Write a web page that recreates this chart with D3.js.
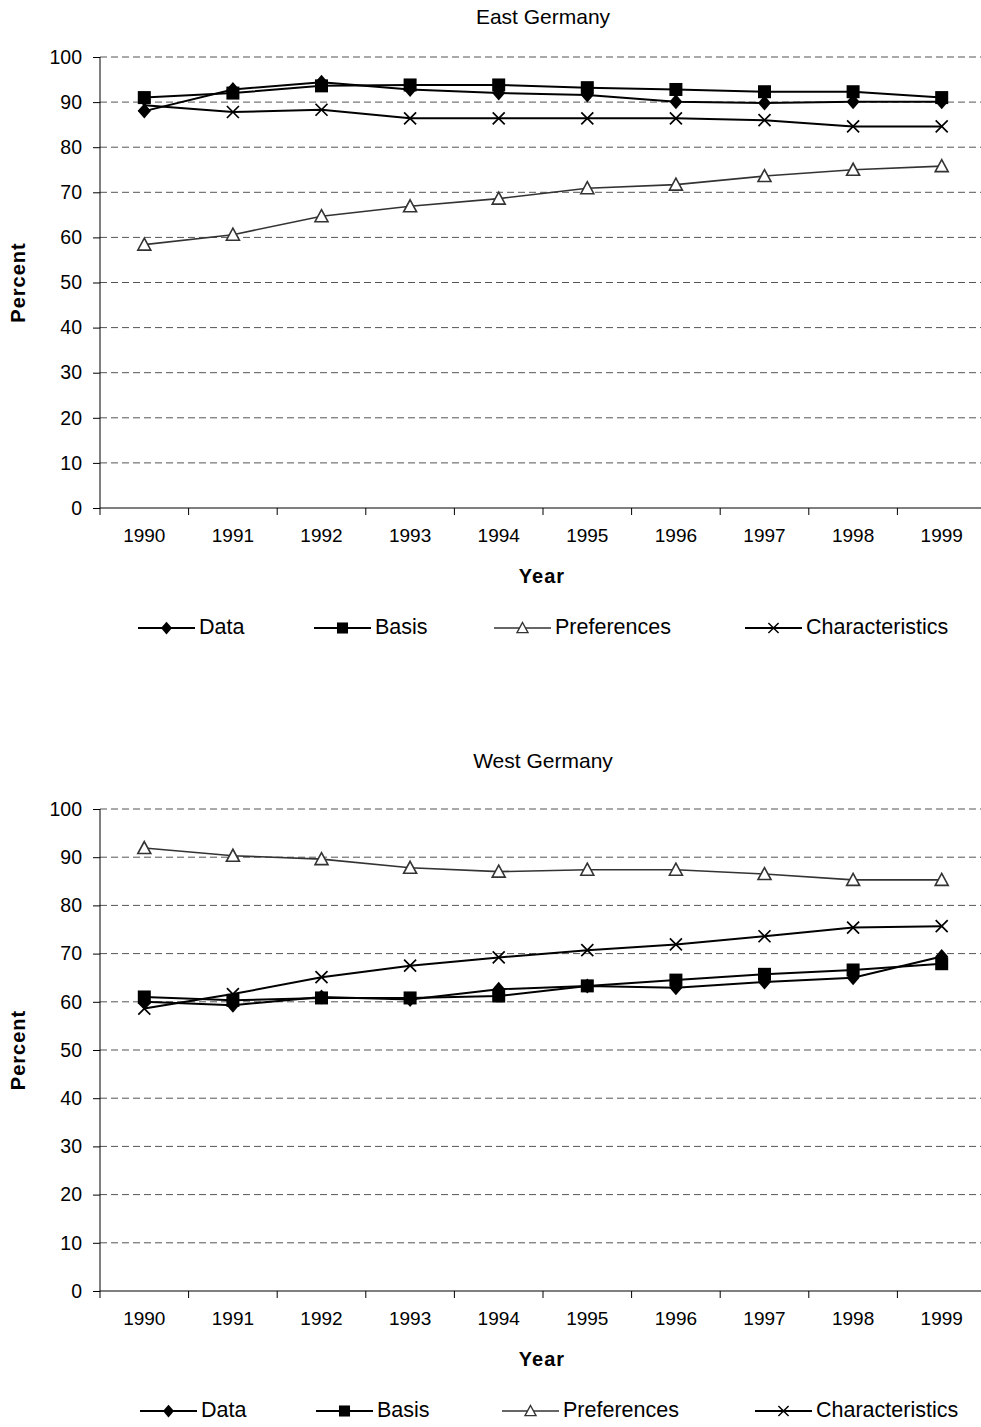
<html lang='en'>
<head>
<meta charset='UTF-8' />
<script src='https://d3js.org/d3.v7.min.js'></script>
<style>
  body { margin: 0; background: #fff; }
  text { font-family: Arial, 'Liberation Sans', sans-serif; fill: #000; }
  .axis-title { font-weight: bold; font-size: 20px; letter-spacing: 1px; }
</style>
<title>East and West Germany</title>
</head>
<body>
<div id='chart'></div>
<script>
  // data
  const years = ["1990", "1991", "1992", "1993", "1994", "1995", "1996", "1997", "1998", "1999"];
  const yTicks = [0, 10, 20, 30, 40, 50, 60, 70, 80, 90, 100];
  const seriesNames = ["Data", "Basis", "Preferences", "Characteristics"];

  const eastData = [88.0, 92.8, 94.4, 92.8, 92.0, 91.6, 90.1, 89.8, 90.1, 90.1];
  const eastBasis = [91.0, 92.0, 93.6, 93.8, 93.8, 93.2, 92.8, 92.3, 92.3, 91.0];
  const eastPreferences = [58.4, 60.6, 64.7, 66.9, 68.6, 70.9, 71.7, 73.6, 75.0, 75.8];
  const eastCharacteristics = [89.3, 87.8, 88.3, 86.4, 86.4, 86.4, 86.4, 86.0, 84.6, 84.6];

  const westData = [60.0, 59.3, 61.0, 60.5, 62.6, 63.3, 62.9, 64.1, 65.0, 69.4];
  const westBasis = [61.0, 60.3, 60.8, 60.8, 61.2, 63.3, 64.5, 65.7, 66.6, 67.9];
  const westPreferences = [91.9, 90.3, 89.6, 87.8, 87.0, 87.4, 87.4, 86.5, 85.3, 85.3];
  const westCharacteristics = [58.6, 61.6, 65.1, 67.5, 69.2, 70.7, 71.9, 73.6, 75.4, 75.7];

  const width = 981;
  const height = 1427;

  const svg = d3.select("#chart")
    .append("svg")
    .attr("width", width)
    .attr("height", height);

  const styles = {
    Data: { stroke: "#000", width: 2, marker: "diamond" },
    Basis: { stroke: "#000", width: 2, marker: "square" },
    Preferences: { stroke: "#333", width: 1.6, marker: "triangle" },
    Characteristics: { stroke: "#000", width: 2, marker: "cross" }
  };

  //draws one marker at (0,0) inside g
  function drawMarker(g, type) {
    if (type == "diamond") {
      g.append("path").attr("d", "M0,-7.5L6.5,0L0,7.5L-6.5,0Z").attr("fill", "#000");
    } else if (type == "square") {
      g.append("rect").attr("x", -6.5).attr("y", -6.5).attr("width", 13).attr("height", 13).attr("fill", "#000");
    } else if (type == "triangle") {
      g.append("path").attr("d", "M0,-6.5L6.5,5.5L-6.5,5.5Z")
        .attr("fill", "#fff").attr("stroke", "#333").attr("stroke-width", 1.6);
    } else {
      g.append("path").attr("d", "M-6,-6L6,6M-6,6L6,-6")
        .attr("stroke", "#000").attr("stroke-width", 1.7);
    }
  }

  function chart(cfg) {
    const margin = { left: 100, right: 986 };
    const x = d3.scaleBand().domain(years).range([margin.left, margin.right]);
    const y = d3.scaleLinear().domain([0, 100]).range([cfg.bottom, cfg.top]);
    const cx = (d) => x(d) + x.bandwidth() / 2;

    const g = svg.append("g");

    // title
    g.append("text")
      .attr("x", 543).attr("y", cfg.titleY)
      .attr("text-anchor", "middle").attr("dominant-baseline", "middle")
      .style("font-size", "21px")
      .text(cfg.title);

    // grid
    g.append("g").selectAll("line").data(yTicks.filter((d) => d > 0)).join("line")
      .attr("x1", margin.left).attr("x2", margin.right)
      .attr("y1", (d) => y(d)).attr("y2", (d) => y(d))
      .attr("stroke", "#555").attr("stroke-width", 1)
      .attr("stroke-dasharray", "7,4");

    // y axis
    const gy = g.append("g").attr("transform", `translate(${margin.left},0)`)
      .call(d3.axisLeft(y).tickValues(yTicks).tickSize(7).tickPadding(11));
    gy.select(".domain").attr("stroke", "#000").attr("d", `M0,${cfg.top}V${cfg.bottom}`);
    gy.selectAll(".tick line").attr("stroke", "#000");
    gy.selectAll(".tick text").style("font-size", "19.5px").attr("font-family", null);

    // x axis
    const gx = g.append("g").attr("transform", `translate(0,${cfg.bottom})`)
      .call(d3.axisBottom(x).tickSize(0).tickPadding(21));
    gx.select(".domain").attr("stroke", "#000").attr("d", `M${margin.left},0H${margin.right}`);
    gx.selectAll(".tick text").style("font-size", "19px").attr("font-family", null);
    gx.selectAll("line.bound").data(years.concat(["end"])).join("line")
      .attr("class", "bound")
      .attr("x1", (d, i) => margin.left + i * x.step())
      .attr("x2", (d, i) => margin.left + i * x.step())
      .attr("y1", 0).attr("y2", 7)
      .attr("stroke", "#000");

    // axis titles
    g.append("text").attr("class", "axis-title")
      .attr("x", 542).attr("y", cfg.bottom + 70)
      .attr("text-anchor", "middle").attr("dominant-baseline", "middle")
      .text("Year");
    g.append("text").attr("class", "axis-title")
      .attr("transform", `translate(20,${(cfg.top + cfg.bottom) / 2}) rotate(-90)`)
      .attr("text-anchor", "middle").attr("dominant-baseline", "middle")
      .text("Percent");

    // lines, Preferences first so the black ones sit on top
    const order = ["Preferences", "Characteristics", "Basis", "Data"];
    order.forEach((name) => {
      const vals = cfg.series[name];
      const st = styles[name];
      g.append("path")
        .datum(vals)
        .attr("fill", "none")
        .attr("stroke", st.stroke)
        .attr("stroke-width", st.width)
        .attr("d", d3.line().x((d, i) => cx(years[i])).y((d) => y(d)));
      g.append("g").selectAll("g").data(vals).join("g")
        .attr("transform", (d, i) => `translate(${cx(years[i])},${y(d)})`)
        .each(function () { drawMarker(d3.select(this), st.marker); });
    });

    // legend
    const legY = cfg.bottom + 120;
    seriesNames.forEach((name, i) => {
      const lx = cfg.legendX[i];
      const st = styles[name];
      const lg = g.append("g").attr("transform", `translate(${lx},${legY})`);
      lg.append("line").attr("x1", 0).attr("x2", 57).attr("y1", 0).attr("y2", 0)
        .attr("stroke", st.stroke).attr("stroke-width", st.width);
      drawMarker(lg.append("g").attr("transform", "translate(28.5,0) scale(0.85)"), st.marker);
      lg.append("text").attr("x", 61).attr("y", 0)
        .attr("dominant-baseline", "middle")
        .style("font-size", "21.5px")
        .text(name);
    });
  }

  chart({
    title: "East Germany", titleY: 18, top: 57, bottom: 508,
    legendX: [138, 314, 494, 745],
    series: { Data: eastData, Basis: eastBasis, Preferences: eastPreferences, Characteristics: eastCharacteristics }
  });

  chart({
    title: "West Germany", titleY: 762, top: 809, bottom: 1291,
    legendX: [140, 316, 502, 755],
    series: { Data: westData, Basis: westBasis, Preferences: westPreferences, Characteristics: westCharacteristics }
  });
</script>
</body>
</html>
